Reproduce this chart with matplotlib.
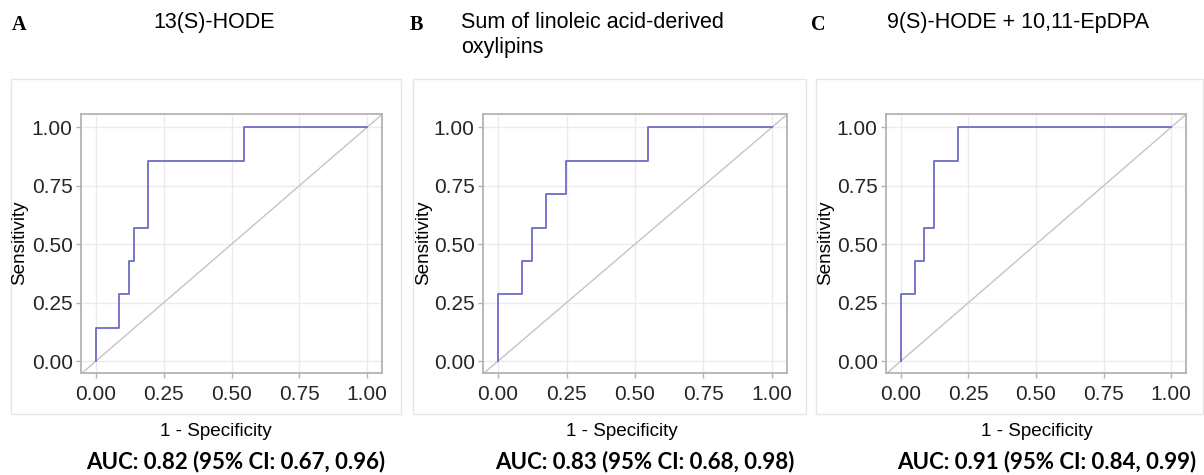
import matplotlib
matplotlib.use("Agg")
import matplotlib.pyplot as plt
from matplotlib.patches import Rectangle

W, H = 1204, 475
DPI = 100

# ROC curves: step corners (1 - specificity, sensitivity)
fpr_a = [0.0, 0.0, 0.085, 0.122, 0.139, 0.191, 0.545, 1.0]
tpr_a = [0.0, 0.143, 0.286, 0.429, 0.571, 0.857, 1.0, 1.0]

fpr_b = [0.0, 0.0, 0.088, 0.124, 0.175, 0.247, 0.547, 1.0]
tpr_b = [0.0, 0.286, 0.429, 0.571, 0.714, 0.857, 1.0, 1.0]

fpr_c = [0.0, 0.0, 0.051, 0.086, 0.123, 0.210, 1.0]
tpr_c = [0.0, 0.286, 0.429, 0.571, 0.857, 1.0, 1.0]

panel_letters = ["A", "B", "C"]
panel_titles = ["13(S)-HODE", "Sum of linoleic acid-derived\noxylipins",
                "9(S)-HODE + 10,11-EpDPA"]
auc_labels = ["AUC: 0.82 (95% CI: 0.67, 0.96)",
              "AUC: 0.83 (95% CI: 0.68, 0.98)",
              "AUC: 0.91 (95% CI: 0.84, 0.99)"]
ticks = [0.0, 0.25, 0.5, 0.75, 1.0]
tick_labels = ["0.00", "0.25", "0.50", "0.75", "1.00"]

curves = [(fpr_a, tpr_a), (fpr_b, tpr_b), (fpr_c, tpr_c)]

# layout in pixels
axes_px = [(81, 382), (483, 787), (886, 1186)]
axes_top, axes_bottom = 114, 373
frames_px = [(11, 401), (413, 806), (816, 1203)]
frame_top, frame_bottom = 79, 414
letter_x = [12, 410, 811]
title_x = [153, 461, 887]
ylabel_x = [20, 424, 826]
xlabel_cx = [216, 622, 1037]
auc_cx = [236, 645, 1047]

ROC_COLOR = "#6b6bc9"
GRID_COLOR = "#ebebeb"
FRAME_COLOR = "#b3b3b3"

fig = plt.figure(figsize=(W / DPI, H / DPI), dpi=DPI)
fig.patch.set_facecolor("white")


def fx(px):
    return px / W


def fy(py):
    return 1 - py / H


for i in range(3):
    # light outer panel frame
    fl, fr = frames_px[i]
    fig.patches.append(Rectangle((fx(fl), fy(frame_bottom)), fx(fr - fl),
                                 (frame_bottom - frame_top) / H,
                                 transform=fig.transFigure, fill=False,
                                 edgecolor="#e6e6e6", linewidth=1.0))

    l, r = axes_px[i]
    ax = fig.add_axes([fx(l), fy(axes_bottom), fx(r - l),
                       (axes_bottom - axes_top) / H])
    ax.set_xlim(-0.055, 1.055)
    ax.set_ylim(-0.051, 1.057)
    ax.set_xticks(ticks)
    ax.set_xticklabels(tick_labels)
    ax.set_yticks(ticks)
    ax.set_yticklabels(tick_labels)
    ax.grid(True, color=GRID_COLOR, linewidth=1.0)
    ax.set_axisbelow(True)
    for s in ax.spines.values():
        s.set_color(FRAME_COLOR)
        s.set_linewidth(1.3)
    ax.tick_params(colors=FRAME_COLOR, labelcolor="#262626", length=3.5,
                   width=1.0, labelsize=15, pad=2.5)
    ax.tick_params(axis="x", pad=5)
    for lab in ax.get_xticklabels() + ax.get_yticklabels():
        lab.set_family("Liberation Sans")

    ax.axline((0, 0), (1, 1), color="#c4c4c4", linewidth=1.0, zorder=2)
    fpr, tpr = curves[i]
    ax.plot(fpr, tpr, drawstyle="steps-post", color=ROC_COLOR,
            linewidth=1.3, zorder=3)

    # panel letter and title (one text per title line)
    fig.text(fx(letter_x[i]), fy(30), panel_letters[i], family="Liberation Serif",
             fontweight="bold", fontsize=14.5, ha="left", va="baseline")
    for k, line in enumerate(panel_titles[i].split("\n")):
        fig.text(fx(title_x[i]), fy(28 + 25 * k), line, family="Liberation Sans",
                 fontsize=15.5, ha="left", va="baseline")

    fig.text(fx(ylabel_x[i]), fy(243), "Sensitivity", family="Liberation Sans",
             fontsize=13.6, rotation=90, ha="center", va="center")
    fig.text(fx(xlabel_cx[i]), fy(431), "1 - Specificity", family="Liberation Sans",
             fontsize=13.6, ha="center", va="center")
    fig.text(fx(auc_cx[i]), fy(462), auc_labels[i], family="Lato",
             fontweight="bold", fontsize=16, ha="center", va="center")

fig.savefig("out.png", dpi=DPI)
